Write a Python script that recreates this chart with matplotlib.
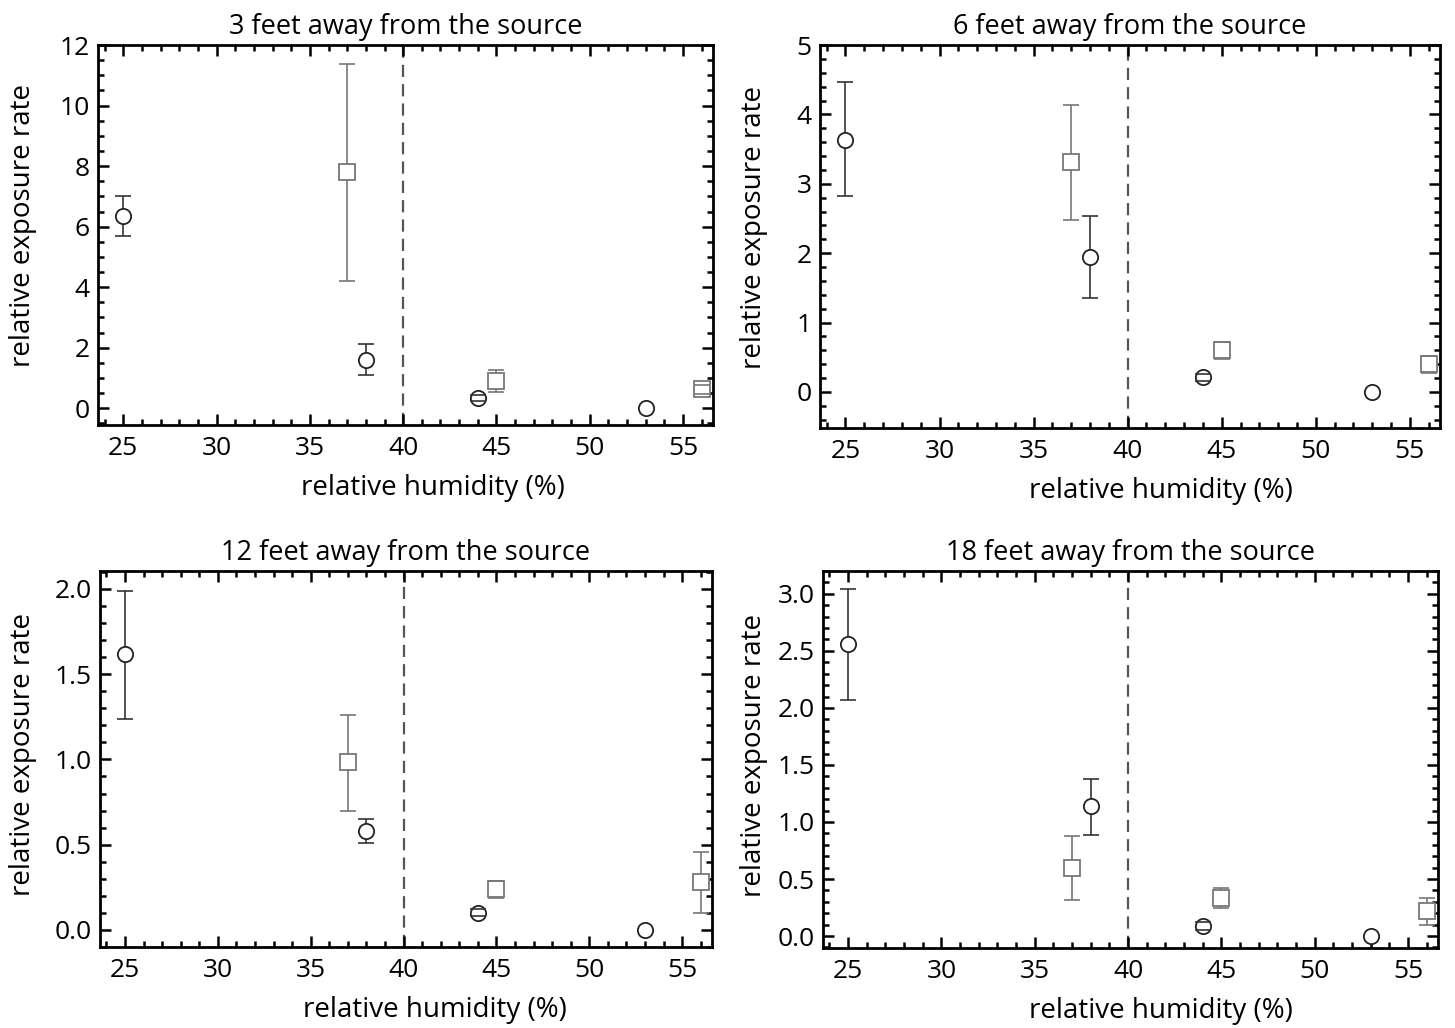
import numpy as np
import matplotlib.pyplot as plt
from matplotlib.ticker import MultipleLocator

plt.rcParams['font.family'] = ['Open Sans', 'DejaVu Sans']

titles = ["3 feet away from the source", "6 feet away from the source",
          "12 feet away from the source", "18 feet away from the source"]

# circle series (humidity, value, lower, upper)
circ_x = [25, 38, 44, 53]
circ_y = [[6.35, 1.6, 0.33, 0.0],
          [3.63, 1.95, 0.21, 0.0],
          [1.62, 0.58, 0.10, 0.0],
          [2.56, 1.14, 0.087, 0.0]]
circ_lo = [[5.69, 1.09, 0.23, 0.0],
           [2.82, 1.35, 0.16, 0.0],
           [1.24, 0.51, 0.08, 0.0],
           [2.07, 0.89, 0.05, 0.0]]
circ_hi = [[7.0, 2.12, 0.43, 0.0],
           [4.47, 2.54, 0.26, 0.0],
           [1.99, 0.65, 0.12, 0.0],
           [3.04, 1.38, 0.12, 0.0]]

# square series
sq_x = [37, 45, 56]
sq_y = [[7.8, 0.89, 0.63],
        [3.31, 0.60, 0.40],
        [0.985, 0.24, 0.28],
        [0.60, 0.33, 0.22]]
sq_lo = [[4.2, 0.53, 0.48],
         [2.48, 0.48, 0.27],
         [0.70, 0.19, 0.10],
         [0.32, 0.25, 0.10]]
sq_hi = [[11.37, 1.26, 0.78],
         [4.14, 0.72, 0.52],
         [1.26, 0.29, 0.46],
         [0.875, 0.42, 0.33]]

ylims = [(-0.55, 12.0), (-0.52, 5.0), (-0.1, 2.105), (-0.105, 3.2)]
ymajor = [2, 1, 0.5, 0.5]
yminor = [0.5, 0.2, 0.1, 0.1]
yfmt = ["%d", "%d", "%.1f", "%.1f"]

positions = [[0.0674, 0.5866, 0.4226, 0.3696],
             [0.5636, 0.5836, 0.4261, 0.3726],
             [0.0687, 0.0788, 0.4206, 0.3657],
             [0.5656, 0.0778, 0.4227, 0.3667]]
ylabel_xy = [(-0.099, 0.524), (-0.084, 0.524), (-0.103, 0.511), (-0.089, 0.511)]
xlabel_x = [0.545, 0.55, 0.547, 0.55]

def draw_series(ax, x, y, lo, hi, marker, edge, ecol):
  x = np.array(x)
  y = np.array(y)
  lo = np.array(lo)
  hi = np.array(hi)
  has = hi > lo
  # error bars, caps drawn above the marker face like in the original
  _, caps, bars = ax.errorbar(x[has], y[has], yerr=[y[has] - lo[has], hi[has] - y[has]],
                              fmt='none', ecolor=ecol, elinewidth=1.2,
                              capsize=6, capthick=1.2, zorder=2)
  for c in caps:
    c.set_zorder(4)
  ax.plot(x, y, marker, ls='none', ms=11, mfc='white', mec=edge, mew=1.3, zorder=3)

fig = plt.figure(figsize=(14.55, 10.28), dpi=100)

for i in range(4):
  ax = fig.add_axes(positions[i])
  ax.axvline(40, color='#555555', ls=(0, (5.5, 3.2)), lw=1.6, zorder=1)

  draw_series(ax, circ_x, circ_y[i], circ_lo[i], circ_hi[i], 'o', '#222222', '#333333')
  draw_series(ax, sq_x, sq_y[i], sq_lo[i], sq_hi[i], 's', '#777777', '#777777')

  ax.set_xlim(23.65, 56.6)
  ax.set_ylim(*ylims[i])
  ax.xaxis.set_major_locator(MultipleLocator(5))
  ax.xaxis.set_minor_locator(MultipleLocator(1))
  ax.yaxis.set_major_locator(MultipleLocator(ymajor[i]))
  ax.yaxis.set_minor_locator(MultipleLocator(yminor[i]))
  ax.yaxis.set_major_formatter(plt.FormatStrFormatter(yfmt[i]))
  ax.tick_params(which='both', direction='in', top=True, right=True, width=1.8, labelsize=19)
  ax.tick_params(which='major', length=8, pad=6)
  ax.tick_params(axis='x', which='major', pad=8)
  ax.tick_params(which='minor', length=4)
  for s in ax.spines.values():
    s.set_linewidth(2)

  ax.set_title(titles[i], fontsize=19.5, pad=8)
  ax.set_xlabel("relative humidity (%)", fontsize=20, labelpad=9, x=xlabel_x[i])
  ax.set_ylabel("relative exposure rate", fontsize=20)
  ax.yaxis.set_label_coords(*ylabel_xy[i])

plt.savefig("out.png", dpi=100)
